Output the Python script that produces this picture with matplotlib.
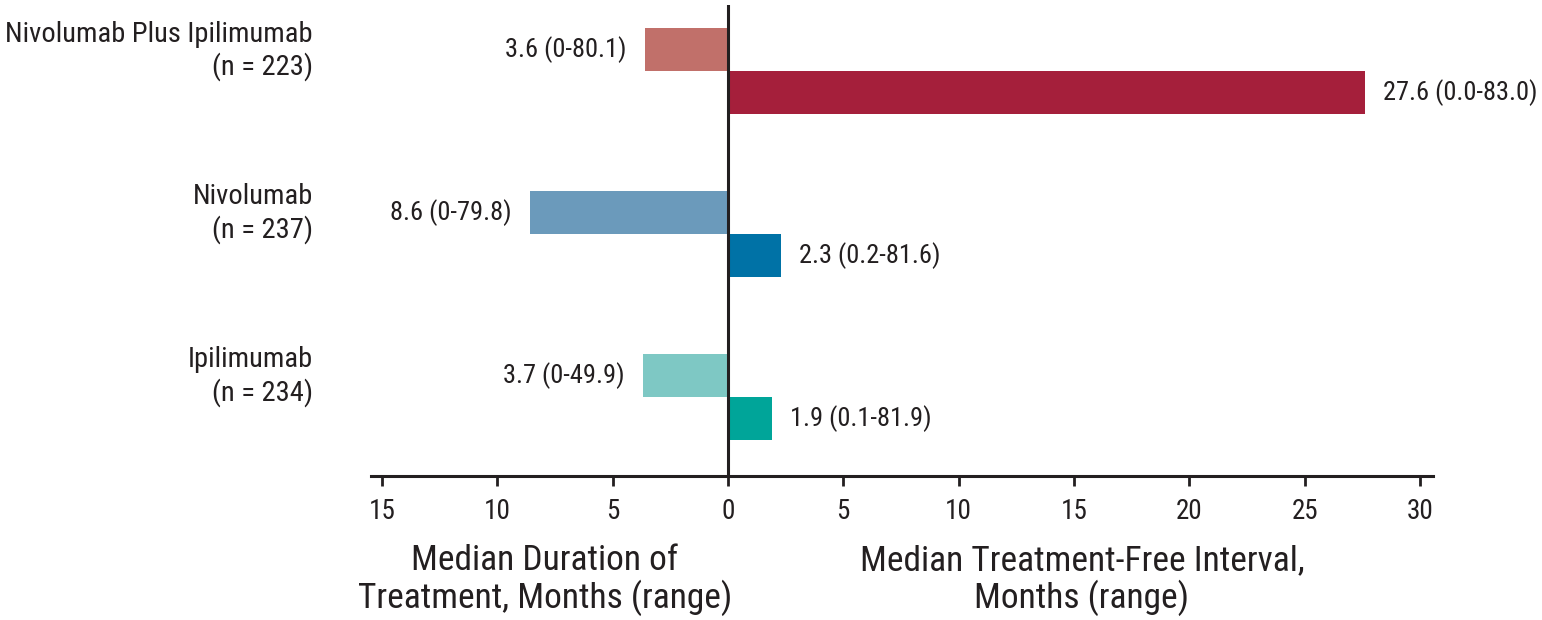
"""
Median duration of treatment vs treatment-free interval
"""
import matplotlib
matplotlib.use('Agg')
import matplotlib.pyplot as plt
from matplotlib import font_manager
from matplotlib.transforms import blended_transform_factory

# look for a condensed face, the reference uses a narrow grotesque
CANDIDATES = ['LiberationSansNarrow-Regular', 'RobotoCondensed-Regular', 'OpenSans_Condensed-Regular',
              'OpenSansCondensed-Regular', 'DejaVuSansCondensed.ttf', 'LiberationSans-Regular']
paths = [f.fname for f in font_manager.fontManager.ttflist]
FONT_PATH = None
for c in CANDIDATES:
    hits = [p for p in paths if c in p]
    if hits:
        FONT_PATH = hits[0]
        break


def fp(size):
    if FONT_PATH:
        return font_manager.FontProperties(fname=FONT_PATH, size=size)
    return font_manager.FontProperties(family='DejaVu Sans', size=size)


groups = ['Nivolumab Plus Ipilimumab\n(n = 223)', 'Nivolumab\n(n = 237)', 'Ipilimumab\n(n = 234)']
dot_median = [3.6, 8.6, 3.7]
dot_range = ['0-80.1', '0-79.8', '0-49.9']
tfi_median = [27.6, 2.3, 1.9]
tfi_range = ['0.0-83.0', '0.2-81.6', '0.1-81.9']
dot_colors = ['#c1706a', '#6b9abb', '#7ec8c4']
tfi_colors = ['#a51f3b', '#0072a6', '#00a599']
tick_vals = [-15, -10, -5, 0, 5, 10, 15, 20, 25, 30]

BAR_H = 0.264
INK = '#231f20'

fig = plt.figure(figsize=(15.42, 6.2), dpi=100)
ax = fig.add_axes([371 / 1542, 1 - 476 / 620, (1433 - 371) / 1542, (476 - 5) / 620])

for i in range(len(groups)):
    ax.barh(i - BAR_H / 2, -dot_median[i], height=BAR_H, color=dot_colors[i])
    ax.barh(i + BAR_H / 2, tfi_median[i], height=BAR_H, color=tfi_colors[i])
    ax.annotate(f'{dot_median[i]} ({dot_range[i]})', (-dot_median[i], i - BAR_H / 2),
                xytext=(-13, 0), textcoords='offset points', ha='right', va='center',
                fontproperties=fp(19), color=INK)
    ax.annotate(f'{tfi_median[i]} ({tfi_range[i]})', (tfi_median[i], i + BAR_H / 2),
                xytext=(13, 0), textcoords='offset points', ha='left', va='center',
                fontproperties=fp(19), color=INK)

trans = blended_transform_factory(fig.transFigure, ax.transData)
for i, g in enumerate(groups):
    ax.text(313 / 1542, i - 0.125, g, transform=trans, ha='right', va='center',
            fontproperties=fp(20.5), color=INK, linespacing=1.2)

ax.axvline(0, color=INK, lw=2.2)
ax.set_xlim(-15.47, 30.56)
ax.set_ylim(2.485, -0.405)
ax.set_yticks([])
ax.set_xticks(tick_vals)
ax.set_xticklabels([str(abs(v)) for v in tick_vals], fontproperties=fp(19.5), color=INK)
ax.tick_params(axis='x', direction='out', length=7, width=2, color=INK, pad=9)
for s in ['left', 'right', 'top']:
    ax.spines[s].set_visible(False)
ax.spines['bottom'].set_linewidth(2.2)
ax.spines['bottom'].set_color(INK)

fig.text(545 / 1542, 1 - 580 / 620, 'Median Duration of\nTreatment, Months (range)',
         ha='center', va='center', fontproperties=fp(25.5), color=INK, linespacing=1.1)
fig.text(1082 / 1542, 1 - 580 / 620, 'Median Treatment-Free Interval,\nMonths (range)',
         ha='center', va='center', fontproperties=fp(25.5), color=INK, linespacing=1.1)

fig.savefig('out.png', dpi=100)
